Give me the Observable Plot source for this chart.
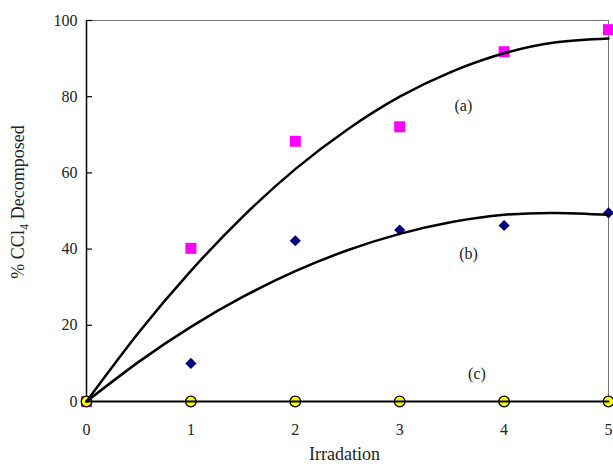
<!DOCTYPE html>
<html>
<head>
<meta charset="utf-8">
<script src="https://cdn.jsdelivr.net/npm/d3@7"></script>
<script src="https://cdn.jsdelivr.net/npm/@observablehq/plot@0.6"></script>
<style>
  body { margin: 0; background: #fff; }
</style>
</head>
<body>
<div id="chart"></div>
<script>
// Measured points
const irradiation = [0, 1, 2, 3, 4, 5];
const seriesA = [0, 40.2, 68.3, 72.1, 91.8, 97.6];   // pink squares (a)
const seriesB = [0, 10.0, 42.2, 45.0, 46.2, 49.5];   // navy diamonds (b)
const seriesC = [0, 0, 0, 0, 0, 0];                   // yellow circles (c)

// Fitted curves
const curveX = [0, 0.5, 1, 1.5, 2, 2.5, 3, 3.5, 4, 4.5, 5];
const curveA = [0, 18.1, 34.3, 48.6, 61.0, 71.4, 80.0, 86.6, 91.4, 94.3, 95.3];
const curveB = [0, 10.4, 19.6, 27.5, 34.2, 39.7, 44.0, 47.1, 49.0, 49.5, 49.0];
const curveC = [0, 0, 0, 0, 0, 0, 0, 0, 0, 0, 0];

// Curve labels
const labelText = ["(a)", "(b)", "(c)"];
const labelX = [3.61, 3.66, 3.74];
const labelY = [77.7, 38.8, 7.3];

const xTicks = [0, 1, 2, 3, 4, 5];
const yTicks = [0, 20, 40, 60, 80, 100];
const xTitle = "Irradation";
const yTitle = "% CCl\u2084 Decomposed";

const pts = (ys) => irradiation.map((x, i) => ({x, y: ys[i]}));
const crv = (ys) => curveX.map((x, i) => ({x, y: ys[i]}));
const labels = labelText.map((t, i) => ({t, x: labelX[i], y: labelY[i]}));

const FONT = "'Liberation Serif', 'Times New Roman', serif";

const chart = Plot.plot({
  width: 613,
  height: 468,
  marginLeft: 86,
  marginRight: 5,
  marginTop: 20,
  marginBottom: 67,
  style: {fontFamily: FONT, fontSize: "16px", color: "#222", background: "#fff"},
  x: {domain: [0, 5]},
  y: {domain: [0, 100]},
  marks: [
    Plot.frame({stroke: "#777", strokeWidth: 1}),
    Plot.ruleX([0], {stroke: "#000", strokeWidth: 1.5}),
    Plot.axisY({ticks: yTicks, tickSize: 6, dx: 6, text: null, label: null, stroke: "#000", strokeWidth: 1.2}),
    Plot.axisY({ticks: yTicks, tickSize: 0, tickPadding: 9, tickFormat: d3.format("d"), fontSize: 16, fontFamily: FONT,
      label: null, fill: "#222"}),
    Plot.axisX({ticks: xTicks, tickSize: 0, tickPadding: 22, tickFormat: d3.format("d"), fontSize: 16, fontFamily: FONT,
      label: null, fill: "#222"}),
    Plot.text([yTitle], {frameAnchor: "left", textAnchor: "middle", dx: -68, dy: -9, rotate: -90, fontSize: 18, fontFamily: FONT, fill: "#222"}),
    Plot.text([xTitle], {frameAnchor: "bottom", dy: 58, dx: -3, fontSize: 18, fontFamily: FONT, fill: "#222"}),
    Plot.dot(pts(seriesA), {x: "x", y: "y", symbol: "square", r: 6.2, fill: "#ff00ff", stroke: "none"}),
    Plot.dot(pts(seriesB), {x: "x", y: "y", symbol: "diamond2", r: 5, fill: "#000080", stroke: "none"}),
    Plot.dot(pts(seriesC), {x: "x", y: "y", symbol: "circle", r: 5.3, fill: "#ffff00", stroke: "#000", strokeWidth: 1.3}),
    Plot.line(crv(curveA), {x: "x", y: "y", curve: "natural", stroke: "#000", strokeWidth: 2.5}),
    Plot.line(crv(curveB), {x: "x", y: "y", curve: "natural", stroke: "#000", strokeWidth: 2.5}),
    Plot.line(crv(curveC), {x: "x", y: "y", curve: "linear", stroke: "#000", strokeWidth: 2}),
    Plot.text(labels, {x: "x", y: "y", text: "t", fontSize: 16, fontFamily: FONT, fill: "#222"})
  ]
});
document.getElementById("chart").appendChild(chart);
</script>
</body>
</html>
